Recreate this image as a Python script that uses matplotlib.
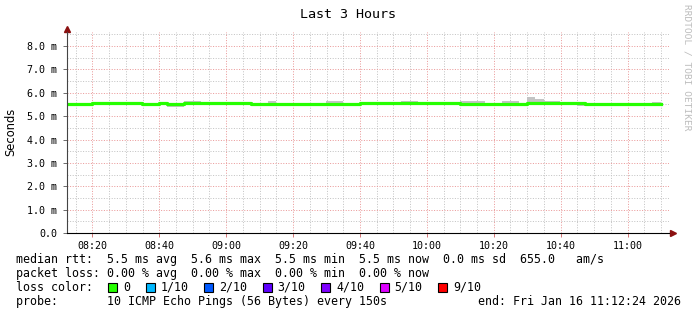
import matplotlib
matplotlib.use('Agg')
import matplotlib.pyplot as plt
import matplotlib.dates as mdates
from matplotlib.patches import Rectangle
from datetime import datetime, timedelta

# smokeping data, 150s steps (ms)
start = datetime(2026, 1, 16, 8, 12, 24)
end = datetime(2026, 1, 16, 11, 12, 24)
step_s = 150

median = [5.52,5.52,5.52,5.55,5.55,5.55,5.55,5.55,5.55,5.53,
          5.53,5.55,5.52,5.52,5.55,5.55,5.55,5.55,5.55,5.55,
          5.55,5.55,5.54,5.52,5.52,5.52,5.52,5.52,5.52,5.50,
          5.52,5.52,5.52,5.52,5.53,5.55,5.55,5.55,5.55,5.55,
          5.55,5.55,5.55,5.55,5.55,5.55,5.55,5.52,5.52,5.52,
          5.50,5.52,5.52,5.52,5.52,5.55,5.55,5.55,5.55,5.55,
          5.55,5.55,5.50,5.52,5.52,5.52,5.52,5.52,5.52,5.52,5.52]
smoke_hi = [5.55,5.55,5.55,5.58,5.58,5.58,5.60,5.60,5.58,5.56,
            5.56,5.58,5.55,5.55,5.66,5.66,5.58,5.58,5.58,5.58,
            5.58,5.58,5.57,5.55,5.64,5.55,5.55,5.55,5.55,5.53,
            5.55,5.66,5.66,5.55,5.56,5.58,5.58,5.58,5.58,5.58,
            5.66,5.66,5.58,5.58,5.58,5.58,5.58,5.65,5.65,5.65,
            5.53,5.55,5.65,5.65,5.55,5.83,5.72,5.63,5.63,5.58,
            5.58,5.58,5.53,5.55,5.55,5.55,5.55,5.55,5.55,5.55,5.62]
smoke_lo = [5.42,5.42,5.42,5.52,5.52,5.52,5.52,5.52,5.52,5.50,
            5.43,5.52,5.40,5.40,5.52,5.52,5.52,5.52,5.52,5.52,
            5.52,5.52,5.43,5.43,5.49,5.49,5.43,5.43,5.49,5.47,
            5.49,5.49,5.49,5.43,5.43,5.52,5.52,5.52,5.52,5.52,
            5.52,5.52,5.52,5.52,5.52,5.52,5.52,5.44,5.44,5.44,
            5.47,5.49,5.49,5.49,5.49,5.52,5.52,5.52,5.52,5.52,
            5.52,5.44,5.44,5.49,5.49,5.49,5.44,5.44,5.44,5.49,5.49]

y_ticks = [0, 1, 2, 3, 4, 5, 6, 7, 8]
loss_labels = ['0', '1/10', '2/10', '3/10', '4/10', '5/10', '9/10']
loss_colors = ['#26ff00', '#00b8ff', '#0059ff', '#5e00ff', '#7e00ff', '#dd00ff', '#ff0000']

legend_rows = [
    'median rtt:  5.5 ms avg  5.6 ms max  5.5 ms min  5.5 ms now  0.0 ms sd  655.0   am/s',
    'packet loss: 0.00 % avg  0.00 % max  0.00 % min  0.00 % now',
    'loss color:',
    'probe:       10 ICMP Echo Pings (56 Bytes) every 150s',
]
end_text = 'end: Fri Jan 16 11:12:24 2026'

W, H = 697, 315
MONO = 'DejaVu Sans Mono'

fig = plt.figure(figsize=(W / 100, H / 100), dpi=100)
fig.patch.set_facecolor('white')

def fx(px):
    return px / W

def fy(py):
    return 1 - py / H

ax = fig.add_axes([fx(67), fy(233), fx(669) - fx(67), fy(32) - fy(233)])
ax.set_facecolor('white')

times = [start + timedelta(seconds=step_s * i) for i in range(len(median))]
t_edge = times + [times[-1] + timedelta(seconds=step_s)]
ax.fill_between(t_edge, smoke_lo + smoke_lo[-1:], smoke_hi + smoke_hi[-1:],
                step='post', color='#c4c4c4', lw=0, zorder=2)
ax.step(t_edge, median + median[-1:], where='post', color='#26ff00', lw=2.3, zorder=3)

ax.set_xlim(start, end)
ax.set_ylim(0, 8.6)

# grid
ax.xaxis.set_major_locator(mdates.MinuteLocator(byminute=[0, 20, 40]))
ax.xaxis.set_minor_locator(mdates.MinuteLocator(byminute=range(0, 60, 5)))
ax.xaxis.set_major_formatter(mdates.DateFormatter('%H:%M'))
ax.set_yticks(y_ticks)
ax.set_yticks([v + 0.5 for v in y_ticks], minor=True)
ax.set_yticklabels(['0.0'] + ['%.1f m' % v for v in y_ticks[1:]])
ax.grid(which='minor', color='#c4c4c4', lw=0.72, ls=(0, (1, 1.6)), zorder=0)
ax.grid(which='major', color='#ea9a9a', lw=0.72, ls=(0, (1, 1.6)), zorder=1)

ax.tick_params(axis='both', which='major', labelsize=7.2, length=3, width=0.6,
               color='#d06060', pad=3)
ax.tick_params(axis='y', which='major', color='#555555', pad=4)
ax.tick_params(which='minor', length=0)
for lab in ax.get_xticklabels() + ax.get_yticklabels():
    lab.set_fontfamily(MONO)

for s in ['top', 'right']:
    ax.spines[s].set_visible(False)
ax.spines['left'].set_color('#444444')
ax.spines['bottom'].set_color('black')
ax.spines['left'].set_linewidth(0.8)
ax.spines['bottom'].set_linewidth(0.8)
ax.spines['left'].set_zorder(5)
ax.spines['bottom'].set_zorder(5)

# axis arrows
ax.plot([0], [1.0 + 3 / 201], marker='^', ms=4.5, color='#8b1010', transform=ax.transAxes,
        clip_on=False)
ax.plot([1.0 + 4 / 602], [0], marker='>', ms=4.5, color='#8b1010', transform=ax.transAxes,
        clip_on=False)

fig.text(fx(348), fy(14), 'Last 3 Hours', family=MONO, fontsize=9.6, ha='center', va='center')
fig.text(fx(11), fy(132), 'Seconds', family='DejaVu Sans', fontsize=8.3, rotation=90,
         ha='center', va='center')
fig.text(fx(687), fy(4), 'RRDTOOL / TOBI OETIKER', family=MONO, fontsize=6.8, rotation=270,
         ha='center', va='top', color='#bdbdbd')

# legend
baselines = [263, 277, 291, 305]
for txt, b in zip(legend_rows, baselines):
    fig.text(fx(16), fy(b), txt, family=MONO, fontsize=8.4, ha='left', va='baseline')
fig.text(fx(478), fy(baselines[3]), end_text, family=MONO, fontsize=8.4, ha='left',
         va='baseline')

x = 108
for lab, col in zip(loss_labels, loss_colors):
    fig.patches.append(Rectangle((fx(x), fy(292)), fx(9), 9 / H, transform=fig.transFigure,
                                 facecolor=col, edgecolor='black', lw=0.8))
    fig.text(fx(x + 15), fy(baselines[2]), lab, family=MONO, fontsize=8.4, ha='left',
             va='baseline')
    x += 15 + 7 * len(lab) + 15.5

fig.savefig('out.png', dpi=100)
